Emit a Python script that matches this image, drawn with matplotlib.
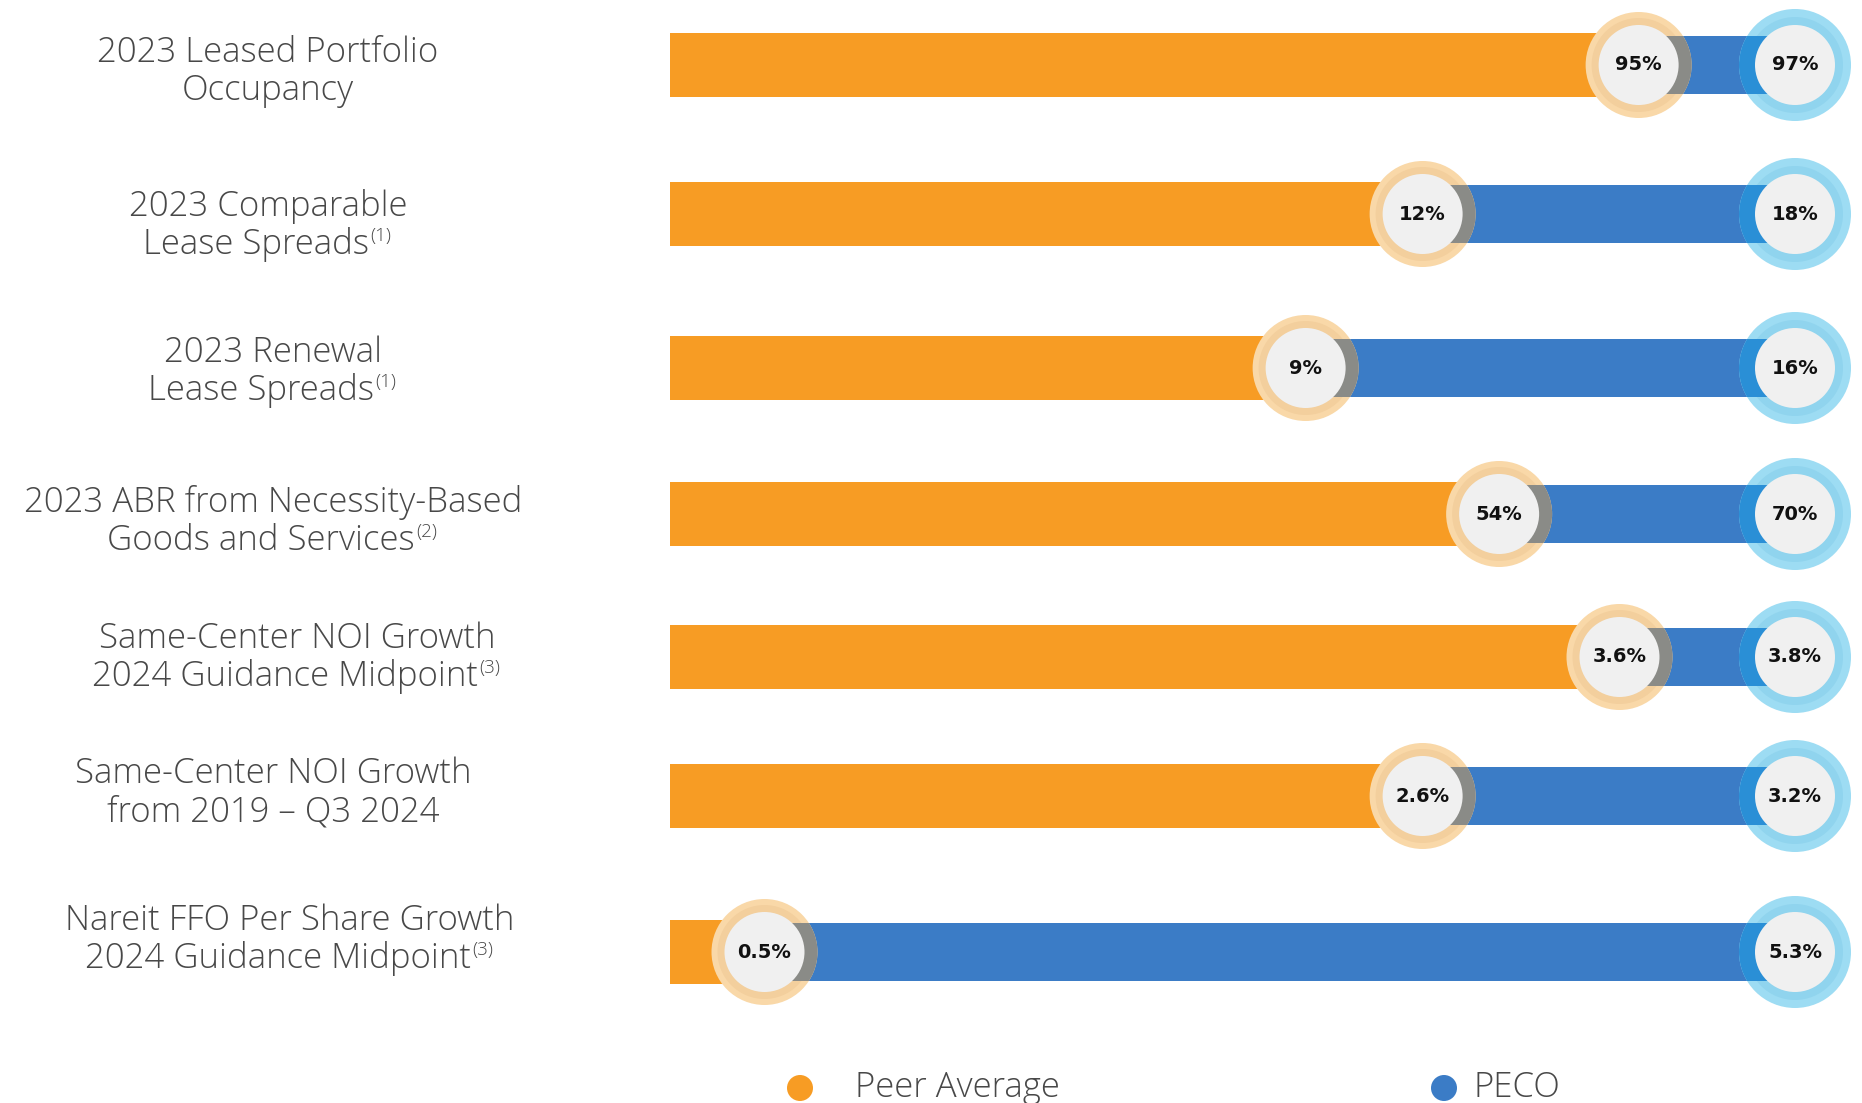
import matplotlib
matplotlib.use("Agg")
import matplotlib.pyplot as plt
from matplotlib.patches import Rectangle, Ellipse

# ---------------- data ----------------
categories = [
    ["2023 Leased Portfolio", "Occupancy"],
    ["2023 Comparable", "Lease Spreads"],
    ["2023 Renewal", "Lease Spreads"],
    ["2023 ABR from Necessity-Based", "Goods and Services"],
    ["Same-Center NOI Growth", "2024 Guidance Midpoint"],
    ["Same-Center NOI Growth", "from 2019 \u2013 Q3 2024"],
    ["Nareit FFO Per Share Growth", "2024 Guidance Midpoint"],
]
footnotes = ["", "(1)", "(1)", "(2)", "(3)", "", "(3)"]
peer_values = [95, 12, 9, 54, 3.6, 2.6, 0.5]
peco_values = [97, 18, 16, 70, 3.8, 3.2, 5.3]
peer_labels = ["95%", "12%", "9%", "54%", "3.6%", "2.6%", "0.5%"]
peco_labels = ["97%", "18%", "16%", "70%", "3.8%", "3.2%", "5.3%"]
# peer bar length as a share of the PECO bar, as drawn in the picture
peer_bar_share = [0.861, 0.669, 0.565, 0.737, 0.844, 0.669, 0.084]
legend_labels = ["Peer Average", "PECO"]

# ---------------- style / layout ----------------
ORANGE = "#f79c24"
BLUE = "#3b7cc6"
PEER_OUT = "#f9d8a8"
PEER_MID = "#f3cf9d"
PEER_SHADOW = "#8a8b87"
PECO_OUT = "#9ddcf3"
PECO_MID = "#90d4ee"
PECO_SHADOW = "#2a8fd6"
INNER = "#f0f0f0"
TEXT = "#484848"
LABEL_FONT = ["Open Sans", "DejaVu Sans"]
VALUE_FONT = ["DejaVu Sans"]

W, H, DPI = 1862, 1103, 100
X0_PX, X1_PX = 670, 1795                       # bar start / PECO centre
ROW_PX = [65, 214, 368, 514, 657, 796, 952]    # row centres in pixels
LABEL_Y_PX = [50, 204, 350, 500, 636, 771, 918]  # first label line centres
LABEL_X_PX = [268, 268, 273, 273, 297, 273, 290]
LINE_GAP = 38

PX_X = 1.0 / (X1_PX - X0_PX)      # data units per pixel horizontally

fig = plt.figure(figsize=(W / DPI, H / DPI), dpi=DPI)
ax = fig.add_axes([0, 0, 1, 1])
ax.set_xlim(-X0_PX * PX_X, (W - X0_PX) * PX_X)
ax.set_ylim(H, 0)   # y axis in pixel rows
ax.axis("off")

H_OR = 64
H_BL = 58


def ell(x, y, r_px, color, z):
    e = Ellipse((x, y), 2 * r_px * PX_X, 2 * r_px, facecolor=color,
                edgecolor="none", zorder=z)
    ax.add_patch(e)
    return e


for i in range(len(categories)):
    y = ROW_PX[i]
    px = peer_bar_share[i]
    cx = 1.0
    # bars
    ax.add_patch(Rectangle((px, y - H_BL / 2), cx - px, H_BL, facecolor=BLUE,
                           edgecolor="none", zorder=1))
    ax.add_patch(Rectangle((0, y - H_OR / 2), px, H_OR, facecolor=ORANGE,
                           edgecolor="none", zorder=2))
    # peer circle
    outer = ell(px, y, 53, PEER_OUT, 3)
    ell(px, y, 47, PEER_MID, 4)
    sh = Rectangle((px, y - H_BL / 2), 60 * PX_X, H_BL, facecolor=PEER_SHADOW,
                   edgecolor="none", zorder=5)
    ax.add_patch(sh)
    sh.set_clip_path(outer)
    ell(px, y, 40, INNER, 6)
    ax.text(px, y, peer_labels[i], ha="center", va="center", fontsize=14,
            fontweight="bold", color="#111111", family=VALUE_FONT, zorder=10)
    # peco circle
    outer2 = ell(cx, y, 56, PECO_OUT, 3)
    ell(cx, y, 48, PECO_MID, 4)
    sh2 = Rectangle((cx - 60 * PX_X, y - H_BL / 2), 60 * PX_X, H_BL,
                    facecolor=PECO_SHADOW, edgecolor="none", zorder=5)
    ax.add_patch(sh2)
    sh2.set_clip_path(outer2)
    ell(cx, y, 40, INNER, 6)
    ax.text(cx, y, peco_labels[i], ha="center", va="center", fontsize=14,
            fontweight="bold", color="#111111", family=VALUE_FONT, zorder=10)

    # category label
    lx = (LABEL_X_PX[i] - X0_PX) * PX_X
    ly1 = LABEL_Y_PX[i] + 3
    l1, l2 = categories[i]
    ax.text(lx, ly1, l1, ha="center", va="center", fontsize=25,
            color=TEXT, family=LABEL_FONT, fontweight=300)
    fn = footnotes[i]
    shift = (12 if fn else 0) * PX_X
    t2 = ax.text(lx - shift, ly1 + LINE_GAP, l2, ha="center", va="center",
                 fontsize=25, color=TEXT, family=LABEL_FONT, fontweight=300)
    if fn:
        ax.annotate(fn, xy=(1, 0.5), xycoords=t2, xytext=(1, 0),
                    textcoords="offset points", ha="left", va="bottom",
                    fontsize=13.5, color=TEXT, family=LABEL_FONT,
                    fontweight=300)

# legend
ly = 1088
for (dot_px, txt_px), col, lab in zip([(800, 855), (1444, 1474)],
                                      [ORANGE, BLUE], legend_labels):
    ell((dot_px - X0_PX) * PX_X, ly, 13, col, 3)
    ax.text((txt_px - X0_PX) * PX_X, ly, lab, ha="left", va="center",
            fontsize=25, color=TEXT, family=LABEL_FONT, fontweight=300)

fig.savefig("out.png", dpi=DPI, facecolor="white")
